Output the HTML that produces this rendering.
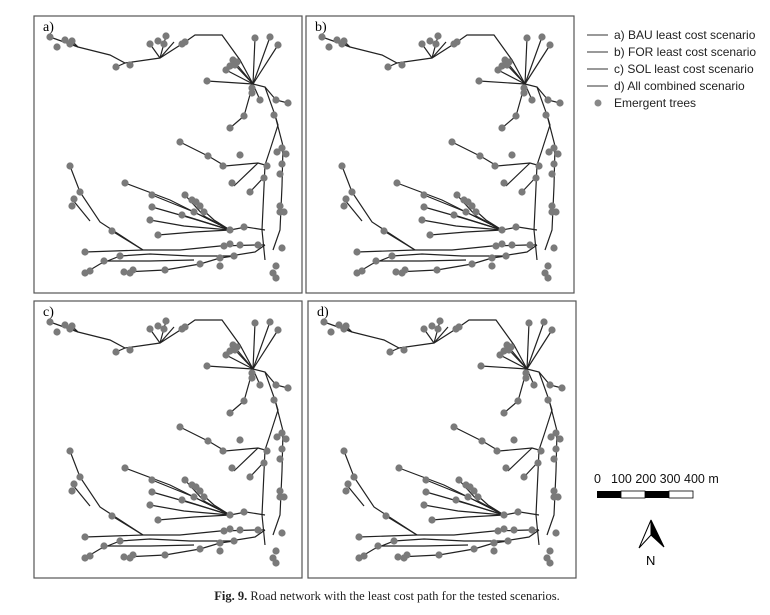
<!DOCTYPE html>
<html><head><meta charset="utf-8"><style>
body{margin:0;background:#fff;width:770px;height:610px;overflow:hidden;font-family:"Liberation Sans",sans-serif}
</style></head><body>
<svg id="fig" width="770" height="610" viewBox="0 0 770 610" xmlns="http://www.w3.org/2000/svg">
<g id="panels"></g>
<g font-family="Liberation Sans, sans-serif" font-size="12" fill="#222">
 <g><line x1="587" y1="35" x2="608" y2="35" stroke="#333" stroke-width="1"/><text x="614" y="39">a) BAU least cost scenario</text></g>
 <g><line x1="587" y1="52" x2="608" y2="52" stroke="#333" stroke-width="1"/><text x="614" y="56">b) FOR least cost scenario</text></g>
 <g><line x1="587" y1="69" x2="608" y2="69" stroke="#333" stroke-width="1"/><text x="614" y="73">c) SOL least cost scenario</text></g>
 <g><line x1="587" y1="86" x2="608" y2="86" stroke="#333" stroke-width="1"/><text x="614" y="90">d) All combined scenario</text></g>
 <g><circle cx="598" cy="103" r="3.5" fill="#888"/><text x="614" y="107">Emergent trees</text></g>
</g>
<g font-size="12.5" fill="#111">
 <text x="594" y="483">0</text><text x="611" y="483">100 200 300 400 m</text>
 <rect x="597" y="491" width="24" height="7" fill="#000"/><rect x="621" y="491" width="24" height="7" fill="#fff" stroke="#000" stroke-width="0.8"/>
 <rect x="645" y="491" width="24" height="7" fill="#000"/><rect x="669" y="491" width="24" height="7" fill="#fff" stroke="#000" stroke-width="0.8"/>
</g>
<g>
 <polygon points="651,520 639,548 651,535" fill="#fff" stroke="#000" stroke-width="1"/>
 <polygon points="651,520 664,547 651,535" fill="#000" stroke="#000" stroke-width="1"/>
 <text x="646" y="565" font-size="13">N</text>
</g>
<text x="387" y="600" text-anchor="middle" font-family="Liberation Serif, serif" font-size="12.5" fill="#222"><tspan font-weight="bold">Fig. 9.</tspan> Road network with the least cost path for the tested scenarios.</text>
</svg>
<script>
const panelLabels=["a)","b)","c)","d)"];
const panelNames=["panel-bau","panel-for","panel-sol","panel-combined"];
const panelX=[34,306,34,308], panelY=[16,16,301,301];
const roads=[
[[16,21],[44,31],[76,39],[91,47],[126,42],[151,26],[161,19],[188,19],[206,44],[219,68]],
[[126,42],[132,20]],[[126,42],[116,28]],[[126,42],[140,26]],[[44,31],[31,24]],[[44,31],[38,25]],[[91,47],[82,51]],
[[219,68],[199,44]],[[219,68],[201,49]],[[219,68],[192,54]],[[219,68],[221,22]],[[219,68],[236,21]],[[219,68],[244,29]],[[219,68],[173,65]],[[219,68],[218,77]],[[219,68],[226,84]],[[231,71],[242,84],[254,87]],
[[219,68],[231,71],[241,99],[244,109],[236,134],[231,149],[228,214],[231,244]],
[[241,99],[249,130],[248,170],[246,214],[239,234]],
[[219,68],[210,100],[196,112]],
[[146,126],[176,141],[191,150],[224,147],[231,149]],[[224,147],[200,170]],[[231,160],[216,176]],
[[36,150],[46,176],[66,206],[109,234]],[[38,183],[56,205]],
[[91,167],[136,184],[196,214]],[[118,179],[160,196],[196,214]],[[151,179],[170,200],[196,214]],[[158,184],[180,204],[196,214]],
[[118,191],[160,203],[196,214]],[[148,199],[196,214]],[[116,204],[150,210],[196,214]],[[124,219],[160,216],[196,214]],[[196,214],[212,211],[231,214]],
[[51,236],[109,234],[146,234],[186,230],[221,229],[231,229]],[[78,215],[109,234]],
[[51,257],[66,248],[86,240],[116,238],[156,240],[196,240],[221,236],[231,229]],
[[90,256],[131,254],[166,248],[186,242],[200,240]],[[70,245],[116,245],[160,244]]
];
const trees=[[16,21],[31,24],[38,25],[36,28],[23,31],[82,51],[96,49],[116,28],[124,25],[132,20],[130,28],[151,26],[148,28],
[199,44],[201,49],[192,54],[196,50],[203,46],[221,22],[236,21],[244,29],[173,65],[218,77],[226,84],[242,84],[254,87],[218,72],
[240,99],[196,112],[210,100],[146,126],[174,140],[189,150],[206,139],[198,167],[216,176],[248,132],[252,138],[243,136],[248,148],[246,158],[233,150],[230,162],
[36,150],[46,176],[40,183],[38,190],[91,167],[118,179],[151,179],[158,184],[162,186],[166,190],[118,191],[148,199],[116,204],[124,219],[196,214],[170,196],[160,196],
[210,211],[246,196],[250,196],[246,190],[242,250],[239,257],[242,262],[248,232],[51,236],[78,215],[86,240],[70,245],[51,257],[56,255],[90,256],[96,257],[99,254],[131,254],[166,248],[186,242],[186,250],[200,240],[190,230],[196,228],[206,229],[224,229]];
const SX=1, SY=1;
function sx(p,v){return panelX[p]+v*SX;}
function sy(p,v){return panelY[p]+v*SY;}
const NS="http://www.w3.org/2000/svg";
const root=document.getElementById("panels");
for(let p=0;p<4;p++){
 const g=document.createElementNS(NS,"g");
 
 
 const fr=document.createElementNS(NS,"rect");
 fr.setAttribute("x",panelX[p]);fr.setAttribute("y",panelY[p]);fr.setAttribute("width",268);fr.setAttribute("height",277);
 fr.setAttribute("fill","#fff");fr.setAttribute("stroke","#555");fr.setAttribute("stroke-width","1.2");
 
 
 g.appendChild(fr);
 const lb=document.createElementNS(NS,"text");
 lb.setAttribute("x",panelX[p]+9);lb.setAttribute("y",panelY[p]+15);
 lb.setAttribute("font-family","Liberation Serif, serif");lb.setAttribute("font-size","14");
 lb.textContent=panelLabels[p];
 
 
 g.appendChild(lb);
 roads.forEach(r=>{
  const pl=document.createElementNS(NS,"polyline");
  pl.setAttribute("points",r.map(q=>sx(p,q[0])+","+sy(p,q[1])).join(" "));
  pl.setAttribute("fill","none");pl.setAttribute("stroke","#222");pl.setAttribute("stroke-width","1.2");
  
  
  g.appendChild(pl);
 });
 trees.forEach(t=>{
  const c=document.createElementNS(NS,"circle");
  c.setAttribute("cx",sx(p,t[0]));c.setAttribute("cy",sy(p,t[1]));c.setAttribute("r","3.6");c.setAttribute("fill","#7a7a7a");
  
  
  g.appendChild(c);
 });
 root.appendChild(g);
}
</script>
</body></html>
